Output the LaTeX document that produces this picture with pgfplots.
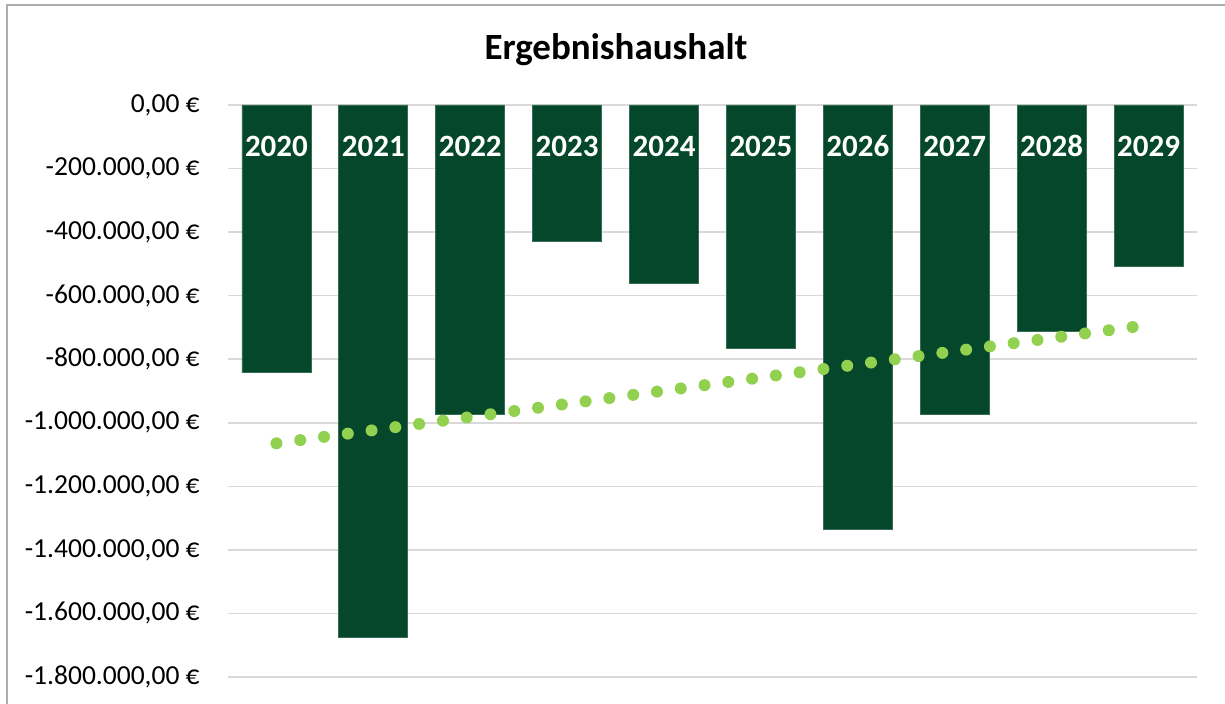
\documentclass[border=0pt]{standalone}
\usepackage{fontspec}
\setmainfont{Carlito}
\usepackage{pgfplots}
\pgfplotsset{compat=1.18}
\definecolor{barcol}{HTML}{05472A}
\definecolor{trendcol}{HTML}{92D050}
\definecolor{gridcol}{HTML}{D9D9D9}
\definecolor{framecol}{HTML}{ADADAD}

\begin{document}
\begin{tikzpicture}
\useasboundingbox (-114pt,-13.5pt) rectangle (498.5pt,338.5pt);
\draw[framecol, line width=1pt] (-110.5pt,-20pt) -- (-110.5pt,336pt) -- (505pt,336pt);
\begin{axis}[
  at={(0pt,0pt)}, anchor=south west,
  scale only axis, width=484.5pt, height=286pt,
  xmin=-0.5, xmax=9.5, ymin=-1800000, ymax=0,
  clip=false,
  scaled y ticks=false,
  axis line style={draw=none},
  tick style={draw=none},
  major tick length=0pt,
  xtick=\empty,
  ytick={-1800000,-1600000,-1400000,-1200000,-1000000,-800000,-600000,-400000,-200000,0},
  yticklabels={{-1.800.000,00 €},{-1.600.000,00 €},{-1.400.000,00 €},{-1.200.000,00 €},{-1.000.000,00 €},{-800.000,00 €},{-600.000,00 €},{-400.000,00 €},{-200.000,00 €},{0,00 €}},
  yticklabel style={font=\fontsize{13.75}{16}\selectfont, inner sep=0pt, xshift=-14pt},
  ymajorgrids,
  grid style={gridcol, line width=0.75pt},
]
% Ergebnis je Jahr
\addplot[ybar, bar width=34.5pt, fill=barcol, draw=barcol!80!white, line width=0.4pt]
  coordinates {(0,-843000) (1,-1676000) (2,-975000) (3,-428000) (4,-563000)
               (5,-767000) (6,-1336000) (7,-975000) (8,-711000) (9,-509000)};
% lineare Trendlinie
\addplot[trendcol, line width=6pt, line cap=round, dash pattern=on 0pt off 12pt]
  coordinates {(0,-1064700) (9,-691900)};
% Jahreszahlen in den Balken
\addplot[draw=none, mark=none, nodes near coords, point meta=explicit symbolic,
  every node near coord/.append style={anchor=center, yshift=-20.5pt, text=white,
    font=\bfseries\fontsize{15.5}{18}\selectfont}]
  table[meta=lab] {
x y lab
0 0 2020
1 0 2021
2 0 2022
3 0 2023
4 0 2024
5 0 2025
6 0 2026
7 0 2027
8 0 2028
9 0 2029
};
\end{axis}
\node[font=\bfseries\fontsize{18.5}{22}\selectfont] at (194pt,313.5pt) {Ergebnishaushalt};
\end{tikzpicture}
\end{document}
